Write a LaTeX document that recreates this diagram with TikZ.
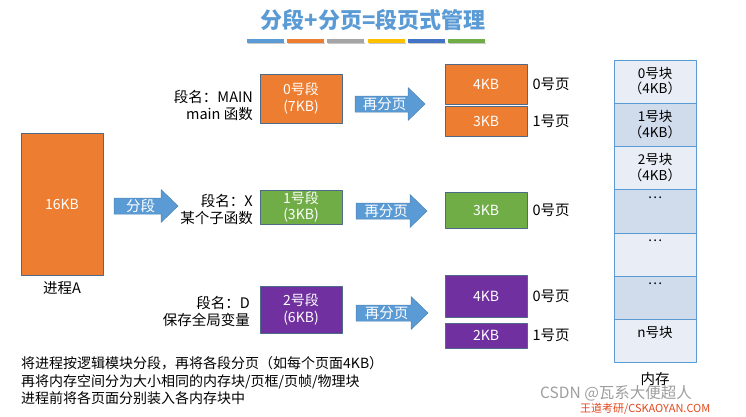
\documentclass[tikz,border=0pt]{standalone}
\usepackage{fontspec}
\setmainfont{Noto Sans CJK SC}
\usetikzlibrary{positioning}
\definecolor{ppblue}{HTML}{5B9BD5}
\definecolor{pporange}{HTML}{ED7D31}
\definecolor{ppgray}{HTML}{A5A5A5}
\definecolor{ppyellow}{HTML}{FFC000}
\definecolor{ppdblue}{HTML}{4472C4}
\definecolor{ppgreen}{HTML}{70AD47}
\definecolor{pppurple}{HTML}{7030A0}
\definecolor{memlight}{HTML}{E9EEF6}
\definecolor{memdark}{HTML}{D0DBEC}
\definecolor{boxline}{HTML}{4D6B87}
\definecolor{wmred}{HTML}{E2471E}
\newcommand{\fsz}[2]{\fontsize{#1}{#2}\selectfont}
% block arrow: name, x start, x tip, y, text
\newcommand{\blockarrow}[5]{%
  \filldraw[arrowbody] (#2,#4-8) -- (#3-17,#4-8) -- (#3-17,#4-16.5) -- (#3,#4)
    -- (#3-17,#4+16.5) -- (#3-17,#4+8) -- (#2,#4+8) -- cycle;
  \node[arrowtext] (#1) at ({(#2+#3-17)/2+3},#4) {#5};}

\begin{document}
\begin{tikzpicture}[x=1pt,y=-1pt,line join=round,
  box/.style={draw=boxline,line width=0.7pt,text=white,align=center,inner sep=0pt,
    minimum width=82pt,font=\fsz{14}{16.5}},
  segname/.style={anchor=east,align=right,inner sep=0pt,font=\fsz{14.5}{17}},
  pagename/.style={inner sep=0pt,font=\fsz{14.5}{17}},
  arrowbody/.style={fill=ppblue,draw=ppblue!85!black,line width=0.5pt},
  arrowtext/.style={text=white,inner sep=0pt,font=\fsz{14.5}{15}},
  memcell/.style={draw=ppblue,line width=0.8pt,minimum width=82pt,minimum height=43.14pt,inner sep=0pt},
  memtext/.style={align=center,inner sep=0pt,font=\fsz{13.5}{15.5}}]
% Draw region settings
\useasboundingbox (0,0) rectangle (746,416);
\clip (0,0) rectangle (746,416);
% Title
\node[text=ppblue,font=\fsz{22}{24}\bfseries] (title) at (373,20) {分段+分页=段页式管理};
\foreach \c [count=\i from 0] in {ppblue,pporange,ppgray,ppyellow,ppdblue,ppgreen}{
  \fill[black!22] (248+40.2*\i,42.5) rectangle ++(37,1.5);
  \fill[\c] (247+40.2*\i,39) rectangle ++(37,3.5);
}
% Process
\node[box,fill=pporange,minimum height=142pt] (procA) at (62,204) {16KB};
\node[pagename,below=6pt of procA] (procname) {进程A};
\blockarrow{cut}{114}{178}{206}{分段}
% Segments
\node[box,fill=pporange,minimum height=49pt] (seg0) at (301,98.5) {0号段\\(7KB)};
\node[box,fill=ppgreen,minimum height=34pt] (seg1) at (301,207) {1号段\\(3KB)};
\node[box,fill=pppurple,minimum height=47pt] (seg2) at (301,309.5) {2号段\\(6KB)};
\node[segname] (segname0) at (253,105) {段名：MAIN\\main 函数};
\node[segname] (segname1) at (253,209.5) {段名：X\\某个子函数};
\node[segname] (segname2) at (250,311.5) {段名：D\\保存全局变量};
% Paging
\blockarrow{split0}{355}{425}{104}{再分页}
\blockarrow{split1}{356}{427}{211}{再分页}
\blockarrow{split2}{356}{428}{313}{再分页}
\node[box,fill=pporange,minimum height=40pt] (page00) at (486,84) {4KB};
\node[box,fill=pporange,minimum height=30pt] (page01) at (486,121) {3KB};
\node[box,fill=ppgreen,minimum height=36pt] (page10) at (486,210) {3KB};
\node[box,fill=pppurple,minimum height=42pt] (page20) at (486,296) {4KB};
\node[box,fill=pppurple,minimum height=25pt] (page21) at (486,335.5) {2KB};
\node[pagename,right=5pt of page00] (pname00) {0号页};
\node[pagename,right=5pt of page01] (pname01) {1号页};
\node[pagename,right=5pt of page10] (pname10) {0号页};
\node[pagename,right=5pt of page20] (pname20) {0号页};
\node[pagename,right=5pt of page21] (pname21) {1号页};
% Memory
\foreach \i/\txt/\col in {0/{0号块\\（4KB）}/memlight,1/{1号块\\（4KB）}/memdark,
    2/{2号块\\（4KB）}/memlight,3/…/memdark,4/…/memlight,5/…/memdark,6/n号块/memlight}{
  \node[memcell,fill=\col,anchor=north] (mem\i) at (655,60+43.14*\i) {};
  \node[memtext,below=7pt of mem\i.north] (memtext\i) {\txt};
}
\node[pagename,below=9pt of mem6] (memname) {内存};
% Notes
\node[anchor=west,align=left,inner sep=0pt,font=\fsz{14}{17.5}] (notes) at (21,381)
  {将进程按逻辑模块分段，再将各段分页（如每个页面4KB）\\再将内存空间分为大小相同的内存块/页框/页帧/物理块\\进程前将各页面分别装入各内存块中};
% Watermark
\node[anchor=west,inner sep=0pt,text=black!38,font=\fsz{15.5}{17}] (csdn) at (540,393) {CSDN @瓦系大便超人};
\node[anchor=west,inner sep=0pt,text=wmred,font=\fsz{11}{12}] (wd) at (580,409) {王道考研/CSKAOYAN.COM};
\end{tikzpicture}
\end{document}
